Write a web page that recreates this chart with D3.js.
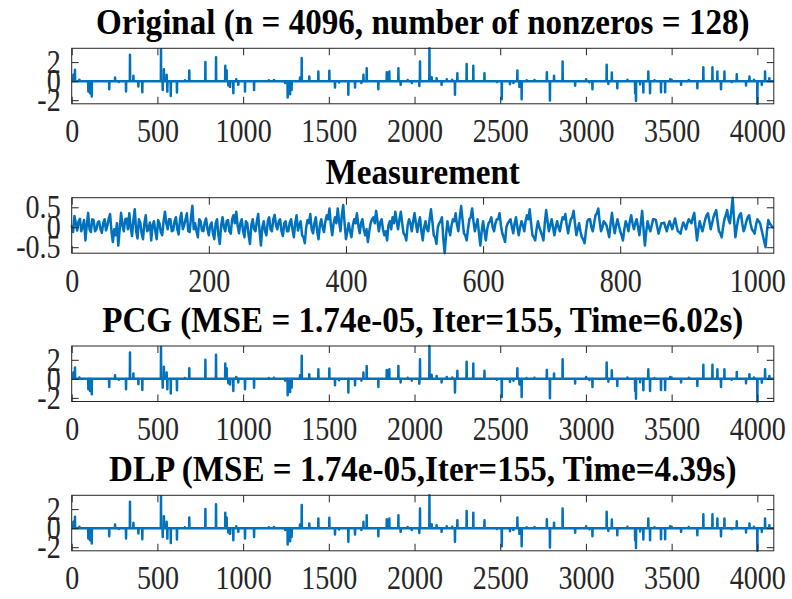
<!DOCTYPE html>
<html>
<head>
<meta charset="utf-8">
<script src="https://cdn.jsdelivr.net/npm/d3@7"></script>
<style>
  body { margin: 0; background: #fff; }
  svg text { font-family: "Liberation Serif", "Times New Roman", serif; }
</style>
</head>
<body>
<svg width="792" height="599"></svg>
<script>
// sparse signal: sample index and amplitude of each nonzero
var spikeIdx = [10, 19, 45, 97, 107, 117, 219, 253, 275, 317, 340, 360, 389, 412, 521, 531, 538, 554, 558, 578,
    614, 660, 686, 780, 842, 896, 904, 914, 924, 943, 960, 972, 1011, 1064, 1150, 1180, 1245, 1260, 1274, 1283,
    1332, 1342, 1386, 1439, 1503, 1536, 1560, 1614, 1653, 1690, 1702, 1721, 1789, 1838, 1853, 1906, 1919, 1960, 1984, 2028,
    2032, 2087, 2100, 2129, 2158, 2188, 2220, 2236, 2250, 2304, 2343, 2408, 2480, 2509, 2557, 2577, 2600, 2612, 2625, 2654,
    2700, 2772, 2790, 2814, 2864, 2937, 3001, 3020, 3038, 3121, 3131, 3151, 3183, 3242, 3287, 3292, 3316, 3335, 3364, 3374,
    3400, 3438, 3462, 3491, 3500, 3555, 3600, 3650, 3685, 3738, 3767, 3788, 3808, 3850, 3880, 3934, 3954, 3980, 4000, 4026,
    4045, 4070];
var spikeVal = [0.66, 1.19, 0.15, -1.09, -1.27, -1.62, -0.85, 0.38, -0.1, -1.09, 2.77, 0.56, -0.56, -1.16, 3.35, -0.92, 1.26, 0.66, -1.1, -1.55,
    -1.2, 0.1, 1.12, 2.0, 2.52, 1.61, 1.12, -0.46, -0.6, -1.27, 0.2, -0.39, -1.09, -0.92, 0.1, 0.12, -0.2, -1.72, -1.37, -0.92,
    0.38, 2.42, 0.49, 1.01, 1.09, -0.67, -0.15, -1.44, -0.67, -0.2, 0.66, 1.36, -0.85, 0.94, 1.01, 1.36, -0.39, 0.12, -0.2, -0.5,
    2.07, 3.45, 0.42, 0.31, -0.39, 0.2, 0.15, -1.44, 0.84, 1.79, 1.61, 0.84, -0.1, -1.9, -0.32, -0.2, 1.12, -0.6, -1.9, 0.1,
    0.12, 0.94, -2.04, 0.56, 2.07, -0.49, 0.2, -0.12, -0.85, 1.72, -0.3, 0.91, -0.74, 0.15, -1.27, -2.08, -0.35, -1.2, 1.01, -1.27,
    0.1, -1.16, -1.16, 0.2, 0.15, -0.39, 0.12, -0.74, 1.47, 1.47, 1.01, -0.85, 1.01, -0.1, 0.73, -0.46, 0.49, 0.15, -2.38, -0.4,
    1.01, 0.31];
var signalLength = 4096;

// measurement (1024 samples), read every 2nd sample
var measStep = 2;
var measVal = [
    0.05, -0.12, 0.28, 0.1, -0.08, 0.15, 0.21, -0.1, 0.02, 0.18, -0.33, 0.05, 0.36, -0.05, -0.12, 0.2, 0.18, -0.1, -0.05, 0.12, 0.15, -0.05, -0.14, 0.1, 0.2, -0.08, 0.04, 0.22, 0.33, -0.1, -0.37, -0.05,
    -0.2, 0.1, -0.46, -0.05, 0.36, 0.05, -0.1, 0.2, 0.22, -0.05, 0.35, 0.0, -0.22, 0.18, 0.45, -0.1, -0.28, 0.2, 0.12, -0.15, -0.3, 0.1, 0.3, -0.1, -0.05, 0.12, -0.33, 0.05, 0.15, -0.1, -0.3, 0.18,
    0.1, -0.12, -0.2, 0.15, 0.39, 0.1, -0.05, 0.2, 0.2, -0.1, -0.08, 0.15, 0.25, -0.05, -0.18, 0.2, 0.36, -0.05, 0.05, 0.2, 0.35, -0.1, -0.12, 0.25, 0.54, -0.05, 0.1, -0.1, -0.25, 0.2, 0.15, -0.08,
    -0.1, 0.12, 0.22, -0.05, -0.2, 0.05, 0.12, -0.15, -0.3, 0.1, 0.2, -0.2, -0.42, 0.05, 0.25, 0.0, -0.1, 0.15, 0.18, -0.1, -0.16, 0.2, 0.3, 0.1, 0.39, 0.05, -0.15, 0.1, 0.2, -0.1, -0.25, 0.15,
    0.1, -0.2, -0.42, 0.05, 0.2, -0.05, -0.1, 0.15, 0.33, -0.1, -0.46, 0.0, 0.15, -0.1, -0.2, 0.15, 0.25, -0.05, -0.1, 0.2, 0.31, 0.05, -0.05, 0.15, 0.2, -0.1, -0.22, 0.1, 0.15, -0.1, -0.1, 0.12,
    0.2, -0.05, -0.25, 0.1, 0.3, -0.08, 0.05, 0.15, -0.2, -0.25, -0.4, 0.0, 0.18, 0.1, 0.33, -0.05, -0.15, 0.1, 0.25, -0.1, -0.3, 0.05, 0.2, 0.0, -0.12, 0.15, 0.3, 0.2, 0.47, 0.05, -0.2, 0.1,
    0.25, 0.1, 0.47, 0.15, -0.1, 0.3, 0.56, 0.1, -0.3, -0.1, 0.1, -0.1, -0.25, 0.05, 0.2, 0.1, 0.35, 0.05, -0.15, 0.1, 0.2, -0.05, -0.2, -0.05, -0.37, -0.1, 0.1, 0.2, 0.25, 0.1, 0.41, 0.15,
    -0.1, 0.12, 0.2, -0.05, -0.2, -0.1, -0.33, 0.05, 0.15, -0.05, 0.25, 0.1, 0.39, 0.15, -0.05, 0.2, 0.39, 0.1, -0.15, -0.2, -0.33, 0.05, 0.2, 0.1, -0.1, 0.15, 0.35, 0.1, -0.12, 0.1, 0.25, -0.1,
    -0.33, 0.0, 0.15, -0.05, -0.1, 0.2, 0.45, 0.15, -0.2, -0.25, -0.42, 0.0, 0.1, 0.15, 0.25, -0.3, -0.65, -0.2, 0.15, -0.05, -0.2, 0.05, 0.2, 0.15, 0.35, 0.05, -0.1, 0.25, 0.53, 0.2, -0.15, -0.2,
    -0.33, -0.05, 0.2, 0.25, 0.47, 0.15, -0.1, 0.05, 0.2, -0.15, -0.46, -0.1, 0.15, -0.1, -0.33, -0.05, 0.1, 0.15, 0.25, 0.0, -0.1, 0.1, 0.2, 0.2, 0.35, 0.05, -0.15, -0.25, -0.37, 0.0, 0.1, 0.15,
    0.2, 0.0, -0.15, 0.1, 0.25, 0.0, -0.2, 0.0, 0.15, 0.05, -0.1, 0.15, 0.3, 0.2, 0.45, 0.1, -0.2, -0.25, -0.33, -0.05, 0.15, 0.0, -0.1, -0.2, -0.33, 0.1, 0.43, 0.15, -0.1, 0.05, 0.2, 0.0,
    -0.2, 0.0, 0.15, 0.0, -0.1, 0.1, 0.25, 0.2, 0.33, 0.05, -0.15, 0.05, 0.2, 0.25, 0.41, 0.1, -0.2, -0.05, 0.1, -0.1, -0.25, -0.3, -0.4, -0.1, 0.15, 0.2, 0.2, 0.0, -0.1, 0.1, 0.3, 0.35,
    0.47, 0.15, -0.1, 0.0, 0.15, 0.1, 0.05, -0.1, -0.25, 0.1, 0.36, 0.05, -0.15, 0.05, 0.2, 0.05, -0.1, -0.2, -0.33, -0.05, 0.15, 0.05, -0.1, 0.15, 0.3, 0.1, -0.05, 0.1, 0.2, 0.0, -0.2, 0.1,
    0.41, -0.05, -0.46, -0.1, 0.15, 0.0, -0.1, 0.05, 0.2, 0.2, 0.18, 0.0, -0.16, -0.02, 0.1, 0.1, 0.12, 0.0, -0.1, 0.05, 0.15, 0.05, -0.05, 0.1, 0.22, 0.05, -0.1, -0.12, -0.16, 0.0, 0.12, 0.05,
    -0.05, 0.1, 0.2, 0.15, 0.1, 0.25, 0.36, 0.0, -0.33, -0.05, 0.15, 0.0, -0.1, 0.05, 0.2, 0.3, 0.35, 0.15, -0.05, 0.1, 0.25, 0.35, 0.43, 0.15, -0.1, -0.15, -0.25, 0.0, 0.2, 0.3, 0.43, 0.2,
    0.1, 0.4, 0.74, 0.2, -0.25, 0.0, 0.2, 0.3, 0.35, 0.1, -0.1, 0.0, 0.15, 0.25, 0.3, 0.1, -0.05, -0.1, -0.16, 0.05, 0.2, 0.15, 0.1, -0.05, -0.2, -0.35, -0.5, -0.1, 0.18, 0.1, 0.05, 0.0,
    0.0];
var measLength = 1024;

var titles = [
    "Original (n = 4096, number of nonzeros = 128)",
    "Measurement",
    "PCG (MSE = 1.74e-05, Iter=155, Time=6.02s)",
    "DLP (MSE = 1.74e-05,Iter=155, Time=4.39s)"
];
var sparseXTicks = [0, 500, 1000, 1500, 2000, 2500, 3000, 3500, 4000];
var sparseYTicks = [-2, 0, 2];
var measXTicks = [0, 200, 400, 600, 800, 1000];
var measYTicks = [-0.5, 0, 0.5];

// spike train -> polyline points (PCG and DLP reconstructions match the original)
function spikePoints() {
    var pts = [[0, 0]];
    spikeIdx.forEach((s, i) => {
        pts.push([s - 1, 0], [s, spikeVal[i]], [s + 1, 0]);
    });
    pts.push([signalLength, 0]);
    return pts;
}
var measPoints = measVal.map((v, i) => [i * measStep, v]);

var panels = [
    {pts: spikePoints(), xMax: signalLength, xTicks: sparseXTicks, yTicks: sparseYTicks},
    {pts: measPoints, xMax: measLength, xTicks: measXTicks, yTicks: measYTicks},
    {pts: spikePoints(), xMax: signalLength, xTicks: sparseXTicks, yTicks: sparseYTicks},
    {pts: spikePoints(), xMax: signalLength, xTicks: sparseXTicks, yTicks: sparseYTicks}
];

var svg = d3.select('svg');
var left = 71.7, right = 773.8, plotH = 55.5;
var tops = [48.3, 197.7, 346, 495.3];
var tickLen = 7;
var squeeze = 0.85; // glyphs in the figure are narrow and tall

panels.forEach((p, k) => {
    var top = tops[k], bottom = top + plotH;
    var x = d3.scaleLinear().domain([0, p.xMax]).range([left, right]);
    var y = d3.scaleLinear().domain(d3.extent(p.pts, d => d[1])).range([bottom, top]);

    var g = svg.append('g');

    // data line
    g.append('path')
        .datum(p.pts)
        .attr('fill', 'none')
        .attr('stroke', '#0072BD')
        .attr('stroke-width', 2.5)
        .attr('stroke-linejoin', 'round')
        .attr('d', d3.line().x(d => x(d[0])).y(d => y(d[1])));

    // axes: inward ticks on all four sides, labels on bottom/left
    var xb = g.append('g').attr('transform', 'translate(0,' + bottom + ')')
        .call(d3.axisBottom(x).tickValues(p.xTicks).tickSizeInner(-tickLen).tickSizeOuter(0).tickPadding(15)
            .tickFormat(d => String(d)));
    var xt = g.append('g').attr('transform', 'translate(0,' + top + ')')
        .call(d3.axisTop(x).tickValues(p.xTicks).tickSizeInner(-tickLen).tickSizeOuter(0).tickFormat(''));
    var yl = g.append('g').attr('transform', 'translate(' + left + ',0)')
        .call(d3.axisLeft(y).tickValues(p.yTicks).tickSizeInner(-tickLen).tickSizeOuter(0).tickPadding(13)
            .tickFormat(d => String(d)));
    var yr = g.append('g').attr('transform', 'translate(' + right + ',0)')
        .call(d3.axisRight(y).tickValues(p.yTicks).tickSizeInner(-tickLen).tickSizeOuter(0).tickFormat(''));

    [xb, xt, yl, yr].forEach(a => {
        a.select('.domain').remove();
        a.selectAll('line').attr('stroke', '#262626').attr('stroke-width', 1);
    });
    [xb, yl].forEach(a => {
        a.selectAll('text')
            .attr('font-size', 33)
            .attr('font-family', '"Liberation Serif", "Times New Roman", serif')
            .attr('fill', '#262626')
            .attr('transform', 'scale(' + squeeze + ',1)');
    });
    xb.selectAll('text').attr('dy', '0.71em');

    // box
    g.append('rect')
        .attr('x', left).attr('y', top)
        .attr('width', right - left).attr('height', plotH)
        .attr('fill', 'none').attr('stroke', '#262626').attr('stroke-width', 1);

    // title
    g.append('text')
        .attr('transform', 'translate(' + ((left + right) / 2) + ',' + (top - 14) + ') scale(0.92,1)')
        .attr('text-anchor', 'middle')
        .attr('font-size', 36)
        .attr('font-weight', 'bold')
        .attr('fill', '#000')
        .text(titles[k]);
});
</script>
</body>
</html>
